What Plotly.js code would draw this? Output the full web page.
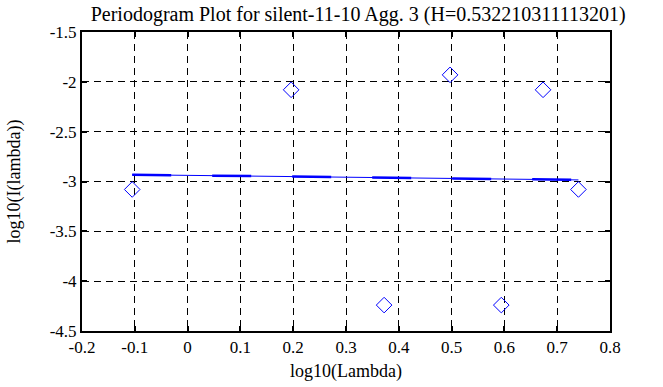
<!DOCTYPE html>
<html>
<head>
<meta charset="utf-8">
<script src="https://cdn.plot.ly/plotly-3.0.1.min.js"></script>
<style>html,body{margin:0;padding:0;background:#fff;}#chart{width:663px;height:387px;}</style>
</head>
<body>
<div id="chart"></div>
<script>
// log10(Lambda) values of the periodogram points
const logLambda = [-0.1049, 0.1961, 0.3722, 0.4971, 0.5941, 0.6732, 0.7402];
// log10(I(lambda)) values
const logI = [-3.08, -2.08, -4.24, -1.93, -4.24, -2.08, -3.08];
// fitted line end points
const fitX = [-0.1049, 0.7402];
const fitY = [-2.932, -2.984];
const xTicks = [-0.2, -0.1, 0, 0.1, 0.2, 0.3, 0.4, 0.5, 0.6, 0.7, 0.8];
const xTickText = ['-0.2', '-0.1', '0', '0.1', '0.2', '0.3', '0.4', '0.5', '0.6', '0.7', '0.8'];
const yTicks = [-4.5, -4, -3.5, -3, -2.5, -2, -1.5];
const yTickText = ['-4.5', '-4', '-3.5', '-3', '-2.5', '-2', '-1.5'];
const titleText = 'Periodogram Plot for silent-11-10 Agg. 3 (H=0.532210311113201)';

const serif = 'Liberation Serif';
const traces = [
  {x: fitX, y: fitY, mode: 'lines', line: {color: '#0000ff', width: 1}, hoverinfo: 'skip'},
  {x: fitX, y: fitY, mode: 'lines', line: {color: '#0000ff', width: 2.5, dash: '39px,41px'}, hoverinfo: 'skip'},
  {x: logLambda, y: logI, mode: 'markers',
   marker: {symbol: 'diamond-open', size: 12, color: '#0000ff', line: {width: 1, color: '#0000ff'}}}
];
const axisCommon = {
  showline: true, mirror: 'ticks', linecolor: '#000', linewidth: 2,
  ticks: 'inside', ticklen: 5, tickwidth: 2, tickcolor: '#000',
  showgrid: true, gridcolor: '#000', gridwidth: 1, griddash: '7px,5px',
  zeroline: false, tickfont: {family: serif, size: 17, color: '#000'},
  tickmode: 'array', automargin: false
};
const layout = {
  width: 663, height: 387,
  margin: {l: 82, r: 53, t: 32, b: 56},
  paper_bgcolor: '#fff', plot_bgcolor: '#fff',
  showlegend: false,
  font: {family: serif, color: '#000'},
  title: {text: titleText, font: {family: serif, size: 20, color: '#000'},
          x: 0.523, xref: 'paper', xanchor: 'center', y: 0.965, yref: 'container', yanchor: 'middle'},
  xaxis: Object.assign({}, axisCommon, {
    range: [-0.2, 0.8], tickvals: xTicks, ticktext: xTickText,
    title: {text: 'log10(Lambda)', font: {family: serif, size: 18, color: '#000'}, standoff: 8}
  }),
  yaxis: Object.assign({}, axisCommon, {
    range: [-4.5, -1.5], tickvals: yTicks, ticktext: yTickText,
    title: {text: 'log10(I(lambda))', font: {family: serif, size: 18, color: '#000'}, standoff: 24}
  })
};
Plotly.newPlot('chart', traces, layout, {staticPlot: true, displayModeBar: false});
</script>
</body>
</html>
